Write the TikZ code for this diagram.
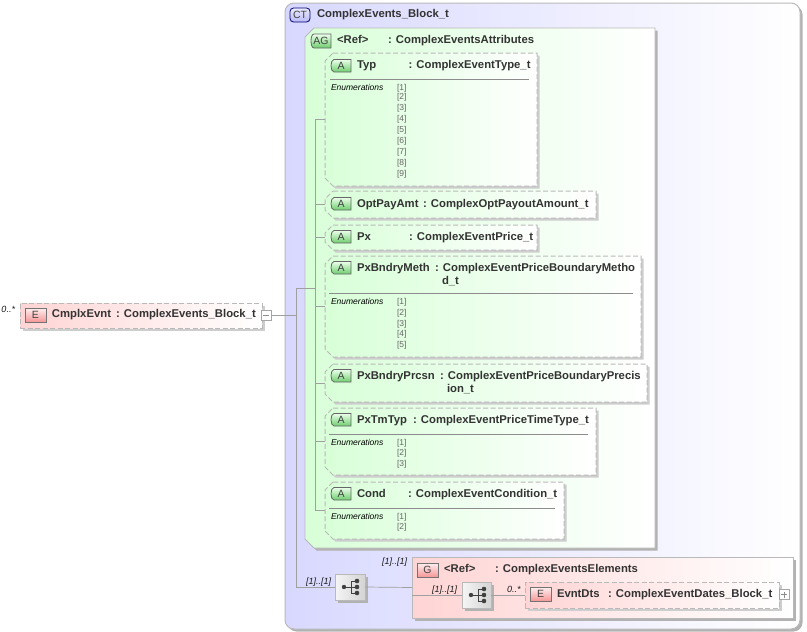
\documentclass[tikz,border=0pt]{standalone}
\usepackage{fontspec}
\setmainfont{Liberation Sans}
\usetikzlibrary{shadows}
\definecolor{txt}{RGB}{51,51,51}
\definecolor{bord}{RGB}{185,185,185}
\definecolor{lav}{RGB}{216,216,255}
\definecolor{grn}{RGB}{216,255,216}
\definecolor{pnk}{RGB}{255,212,212}
\definecolor{conn}{RGB}{160,160,160}
\definecolor{shd}{RGB}{178,178,178}
\definecolor{shdl}{RGB}{205,205,205}
\tikzset{
 x=1pt,y=-1pt,
 base/.style={inner sep=0pt,outer sep=0pt},
 shad/.style={drop shadow={shadow xshift=2.5pt,shadow yshift=-2.5pt,fill=shd,opacity=1}},
 shadl/.style={drop shadow={shadow xshift=2.5pt,shadow yshift=-2.5pt,fill=shdl,opacity=1}},
 ctbox/.style={base,draw=bord,line width=1pt,rounded corners=9pt,left color=lav,right color=white,shad},
 agbox/.style={draw=bord,line width=.8pt,left color=grn,right color=white,shad},
 abox/.style={draw=bord,line width=1pt,dash pattern=on 5pt off 2.5pt,left color=grn,right color=white,shadl},
 ebox/.style={base,draw=bord,line width=1pt,dash pattern=on 5pt off 2.5pt,left color=pnk,right color=white,shadl},
 gbox/.style={base,draw=bord,line width=.9pt,left color=pnk,right color=white,shad},
 seqbox/.style={base,draw=bord,line width=.7pt,left color=black!4,right color=black!17,shad},
 lab/.style={base,anchor=base west,font=\fontsize{11.3}{13}\selectfont\bfseries,text=txt},
 conn/.style={draw=conn,line width=.7pt},
 sep/.style={draw=black!45,line width=.8pt},
 enum/.style={base,anchor=base west,font=\fontsize{8.5}{10}\selectfont\itshape,text=black},
 num/.style={base,anchor=base west,font=\fontsize{8.5}{10}\selectfont,text=black!60},
 mult/.style={base,anchor=base west,font=\fontsize{9}{10}\selectfont\itshape,text=black!90},
 badgetext/.style={base,font=\fontsize{10.5}{12}\selectfont,text=black!75},
 bEG/.style={badgetext,draw=black!55,line width=.8pt,minimum width=21pt,minimum height=14pt,top color=red!6,bottom color={rgb,255:red,245;green,150;blue,150}},
 bGr/.style={draw=black!60,line width=.8pt,top color=green!8,bottom color={rgb,255:red,110;green,205;blue,110}},
 bCT/.style={badgetext,draw=black!55!blue,line width=.8pt,minimum width=20pt,minimum height=14pt,rounded corners=3.5pt,top color=lav!50,bottom color={rgb,255:red,185;green,185;blue,245}},
 pm/.style={base,draw=black!35,line width=.6pt,fill=white,minimum width=10pt,minimum height=10pt},
}
\newcommand{\seqicon}[1]{%
 \fill[black!75] (#1) ++(-7,0) circle (2.2pt);
 \foreach \d in {-6,0,6}{\fill[black!75] (#1) ++(6,\d) circle (2.3pt);}
 \draw[black!75,line width=.9pt] (#1) ++(-7,0) -- ++(7,0) (#1) ++(0,-6) -- ++(0,12) (#1) ++(0,-6) -- ++(6,0) (#1) ++(0,0) -- ++(6,0) (#1) ++(0,6) -- ++(6,0);}
% #1 name, #2 style, #3 x1, #4 y1, #5 x2, #6 y2, #7 chamfer
\newcommand{\chambox}[7]{%
 \path[#2] ({#3+#7},#4) -- (#5,#4) -- (#5,#6) -- ({#3+#7},#6) -- (#3,{#6-#7}) -- (#3,{#4+#7}) -- cycle;
 \node[base,minimum width={(#5-#3)*1pt},minimum height={(#6-#4)*1pt}] (#1) at ({(#3+#5)/2},{(#4+#6)/2}) {};}
% #1 name, #2 x1, #3 y1, #4 x2, #5 y2, #6 text
\newcommand{\grnbadge}[6]{%
 \path[bGr] ({#2+4},#3) -- (#4,#3) -- (#4,#5) -- ({#2+4},#5) .. controls (#2,#5) and (#2,#3) .. cycle;
 \node[badgetext] (#1) at ({(#2+#4)/2+.5},{(#3+#5)/2}) {#6};}
\begin{document}
\begin{tikzpicture}
\useasboundingbox (0,0) rectangle (807,632);
% containers
\node[ctbox,minimum width=515pt,minimum height=626pt] (ct) at (542.5,316) {};
\chambox{ag}{agbox}{305}{28}{655}{548}{9}
\node[gbox,minimum width=381pt,minimum height=61pt] (g) at (602.5,587.5) {};
% element and sequence nodes
\node[ebox,minimum width=242pt,minimum height=25pt] (root) at (141,315.5) {};
\node[pm] (minus) at (266,315) {};
\draw[black!45,line width=.6pt] (minus.west) ++(2,0) -- ++(6,0);
\node[seqbox,minimum width=30pt,minimum height=26pt] (seqa) at (350,587) {};
\node[seqbox,minimum width=29pt,minimum height=26pt] (seqb) at (476.5,595) {};
\node[ebox,minimum width=254pt,minimum height=26pt] (dts) at (652,595) {};
\node[pm] (plus) at (784,594.5) {};
\draw[black!45,line width=.6pt] (plus.west) ++(2,0) -- ++(6,0) (plus.south) ++(0,-2) -- ++(0,-6);
% connector end points
\coordinate (busa) at (296,315);
\coordinate (busb) at (315,288);
\coordinate (typc) at (325,119.5);
\coordinate (optc) at (325,204.5);
\coordinate (pxc) at (325,237.5);
\coordinate (methc) at (325,306.5);
\coordinate (prcc) at (325,383);
\coordinate (tmc) at (325,441.5);
\coordinate (condc) at (325,510.5);
% connectors
\draw[conn] (minus.east) -- (busa);
\draw[conn] (busa |- ag.west) -- (seqa.west -| busa) -- (seqa.west);
\draw[conn] (busa |- ag.west) -- (busb);
\draw[conn] (busb |- typc) -- (busb |- condc);
\foreach \c in {typc,optc,pxc,methc,prcc,tmc,condc}{\draw[conn] (busb |- \c) -- (\c);}
\draw[conn] (seqa.east) -- (g.west);
\draw[conn] (g.west |- seqb.west) -- (seqb.west);
\draw[conn] (seqb.east) -- (dts.west);
% attribute boxes
\chambox{typ}{abox}{325}{53}{537}{186}{8}
\chambox{opt}{abox}{325}{191}{596}{218}{8}
\chambox{px}{abox}{325}{225}{537}{250}{8}
\chambox{meth}{abox}{325}{256}{641}{357}{8}
\chambox{prc}{abox}{325}{364}{647}{402}{8}
\chambox{tm}{abox}{325}{408}{596}{475}{8}
\chambox{cond}{abox}{325}{482}{564}{539}{8}
% separators
\draw[sep] (330,79) -- (529,79);
\draw[sep] (329,293) -- (633,293);
\draw[sep] (329,434) -- (588,434);
\draw[sep] (329,508) -- (555,508);
% badges
\node[bCT] (bct) at (300,15) {CT};
\grnbadge{bag}{310}{34}{331}{48}{AG}
\grnbadge{ba1}{330}{59.5}{351}{72}{A}
\grnbadge{ba2}{330}{197.5}{351}{210}{A}
\grnbadge{ba3}{330}{230.5}{351}{243}{A}
\grnbadge{ba4}{330}{261.5}{351}{274}{A}
\grnbadge{ba5}{330}{369.5}{351}{382}{A}
\grnbadge{ba6}{330}{413.5}{351}{426}{A}
\grnbadge{ba7}{330}{487.5}{351}{500}{A}
\node[bEG] (be1) at (35.5,315) {E};
\node[bEG] (be2) at (427.5,570) {G};
\node[bEG] (be3) at (540.5,594) {E};
% labels
\node[lab] (t1) at (317,17) {ComplexEvents\_Block\_t};
\node[lab] (t2) at (337,43) {<Ref>};
\node[lab] (t3) at (388,43) {: ComplexEventsAttributes};
\node[lab] (t4) at (357,68) {Typ};
\node[lab] (t5) at (408.5,68) {: ComplexEventType\_t};
\node[lab] (t6) at (357,207) {OptPayAmt};
\node[lab] (t7) at (423,207) {: ComplexOptPayoutAmount\_t};
\node[lab] (t8) at (357,240) {Px};
\node[lab] (t9) at (409,240) {: ComplexEventPrice\_t};
\node[lab] (t10) at (357,271) {PxBndryMeth};
\node[lab] (t11) at (435,271) {: ComplexEventPriceBoundaryMetho};
\node[lab] (t12) at (442,284) {d\_t};
\node[lab] (t13) at (357,379) {PxBndryPrcsn};
\node[lab] (t14) at (440,379) {: ComplexEventPriceBoundaryPrecis};
\node[lab] (t15) at (447,392) {ion\_t};
\node[lab] (t16) at (357,423) {PxTmTyp};
\node[lab] (t17) at (413,423) {: ComplexEventPriceTimeType\_t};
\node[lab] (t18) at (357,497) {Cond};
\node[lab] (t19) at (408,497) {: ComplexEventCondition\_t};
\node[lab] (t20) at (52,317) {CmplxEvnt};
\node[lab] (t21) at (116,317) {: ComplexEvents\_Block\_t};
\node[lab] (t22) at (444,572) {<Ref>};
\node[lab] (t23) at (495,572) {: ComplexEventsElements};
\node[lab] (t24) at (557,597) {EvntDts};
\node[lab] (t25) at (608,597) {: ComplexEventDates\_Block\_t};
% enumerations
\node[enum] (e1) at (331,90) {Enumerations};
\node[enum] (e2) at (331,304) {Enumerations};
\node[enum] (e3) at (331,445) {Enumerations};
\node[enum] (e4) at (331,519) {Enumerations};
\foreach \n/\y in {1/90,2/99,3/110,4/121,5/132,6/143,7/154,8/165,9/176}{\node[num] (na\n) at (397,\y) {[\n]};}
\foreach \n/\y in {1/304,2/315,3/326,4/336,5/347}{\node[num] (nb\n) at (397,\y) {[\n]};}
\foreach \n/\y in {1/445,2/455,3/466}{\node[num] (nc\n) at (397,\y) {[\n]};}
\foreach \n/\y in {1/519,2/529}{\node[num] (nd\n) at (397,\y) {[\n]};}
% multiplicities
\node[mult] (m1) at (1.5,312) {0..*};
\node[mult] (m2) at (382,564) {[1]..[1]};
\node[mult] (m3) at (306,584) {[1]..[1]};
\node[mult] (m4) at (432,592) {[1]..[1]};
\node[mult] (m5) at (507,592) {0..*};
\seqicon{351,587}
\seqicon{478,595}
\end{tikzpicture}
\end{document}
